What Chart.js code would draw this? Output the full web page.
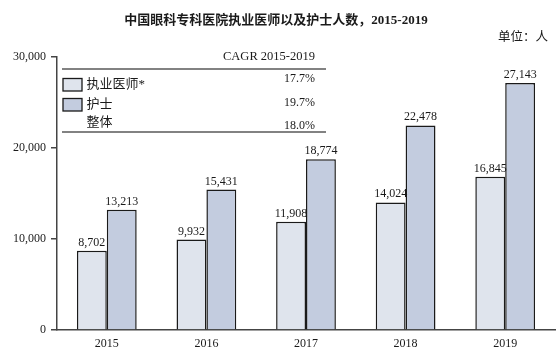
<!DOCTYPE html>
<html><head><meta charset="utf-8">
<script src="https://cdn.jsdelivr.net/npm/chart.js@4"></script>
<style>html,body{margin:0;padding:0;background:#fff;}#wrap{width:560px;height:355px;position:relative;}</style>
</head><body><div id="wrap"><canvas id="c" width="560" height="355"></canvas></div>
<script>
const titleText = '中国眼科专科医院执业医师以及护士人数，2015-2019';
const unitText = '单位：人';
const years = ['2015', '2016', '2017', '2018', '2019'];
const doctors = [8702, 9932, 11908, 14024, 16845];
const nurses = [13213, 15431, 18774, 22478, 27143];
const seriesNames = ['执业医师*', '护士'];
const cagrHeader = 'CAGR 2015-2019';
const cagrNames = ['执业医师*', '护士', '整体'];
const cagrValues = ['17.7%', '19.7%', '18.0%'];
const yTicks = [0, 10000, 20000, 30000];

const SERIF = "'Liberation Serif', 'Noto Sans CJK SC', serif";
const colors = ['#dfe4ed', '#c3ccdf'];
const edge = '#1a1a1a';
const txt = '#1a1a1a';

const decor = {
  id: 'decor',
  afterDatasetsDraw(chart) {
    const ctx = chart.ctx;
    const ca = chart.chartArea;
    ctx.save();
    // value labels
    ctx.font = '12px ' + SERIF;
    ctx.fillStyle = txt;
    ctx.textAlign = 'center';
    ctx.textBaseline = 'alphabetic';
    chart.data.datasets.forEach((ds, di) => {
      const meta = chart.getDatasetMeta(di);
      meta.data.forEach((el, i) => {
        ctx.fillText(ds.data[i].toLocaleString('en-US'), el.x, el.y - 5);
      });
    });
    // title
    ctx.font = 'bold 13px ' + SERIF;
    ctx.textBaseline = 'middle';
    ctx.fillText(titleText, 276, 21);
    ctx.font = '12.5px ' + SERIF;
    ctx.textAlign = 'right';
    ctx.fillText(unitText, 548, 38);
    // CAGR table
    const L = ca.left, T = ca.top;
    ctx.font = '12.5px ' + SERIF;
    ctx.textAlign = 'right';
    ctx.fillText(cagrHeader, L + 258, T);
    ctx.strokeStyle = '#5a5a5a';
    ctx.lineWidth = 1.5;
    ctx.beginPath();
    ctx.moveTo(L + 5, T + 12); ctx.lineTo(L + 269, T + 12);
    ctx.moveTo(L + 5, T + 75); ctx.lineTo(L + 269, T + 75);
    ctx.stroke();
    const rowY = [T + 28, T + 48, T + 65.7];
    const valY = [T + 22.3, T + 46.3, T + 68.7];
    for (let r = 0; r < cagrNames.length; r++) {
      if (r < colors.length) {
        const by = T + 21.5 + r * 20;
        ctx.fillStyle = colors[r];
        ctx.fillRect(L + 6, by, 19, 12.5);
        ctx.strokeStyle = edge;
        ctx.lineWidth = 1.3;
        ctx.strokeRect(L + 6, by, 19, 12.5);
      }
      ctx.fillStyle = txt;
      ctx.textAlign = 'left';
      ctx.font = '13px ' + SERIF;
      ctx.fillText(cagrNames[r], L + 29.5, rowY[r]);
      ctx.font = '12px ' + SERIF;
      ctx.textAlign = 'right';
      ctx.fillText(cagrValues[r], L + 258, valY[r]);
    }
    ctx.restore();
  }
};

new Chart(document.getElementById('c').getContext('2d'), {
  type: 'bar',
  data: {
    labels: years,
    datasets: [
      { label: seriesNames[0], data: doctors, backgroundColor: colors[0], borderColor: edge, borderWidth: 1.5, categoryPercentage: 0.6, barPercentage: 1 },
      { label: seriesNames[1], data: nurses, backgroundColor: colors[1], borderColor: edge, borderWidth: 1.5, categoryPercentage: 0.6, barPercentage: 1 }
    ]
  },
  options: {
    responsive: false,
    animation: false,
    layout: { padding: { top: 57, right: 5, left: 0, bottom: 0 } },
    plugins: { legend: { display: false }, tooltip: { enabled: false }, title: { display: false } },
    scales: {
      x: {
        grid: { display: false, drawTicks: false },
        border: { display: true, color: '#444', width: 1.5 },
        ticks: { font: { family: SERIF, size: 12 }, color: txt, padding: 7 },
        afterFit(s) { s.height = 25; }
      },
      y: {
        min: 0, max: 30000,
        afterBuildTicks(s) { s.ticks = yTicks.map(v => ({ value: v })); },
        grid: { drawOnChartArea: false, drawTicks: true, tickLength: 6, color: '#444', lineWidth: 1.5 },
        border: { display: true, color: '#444', width: 1.5 },
        ticks: { font: { family: SERIF, size: 12 }, color: txt, padding: 5, callback: v => v.toLocaleString('en-US') },
        afterFit(s) { s.width = 57; }
      }
    }
  },
  plugins: [decor]
});
</script>
</body></html>
